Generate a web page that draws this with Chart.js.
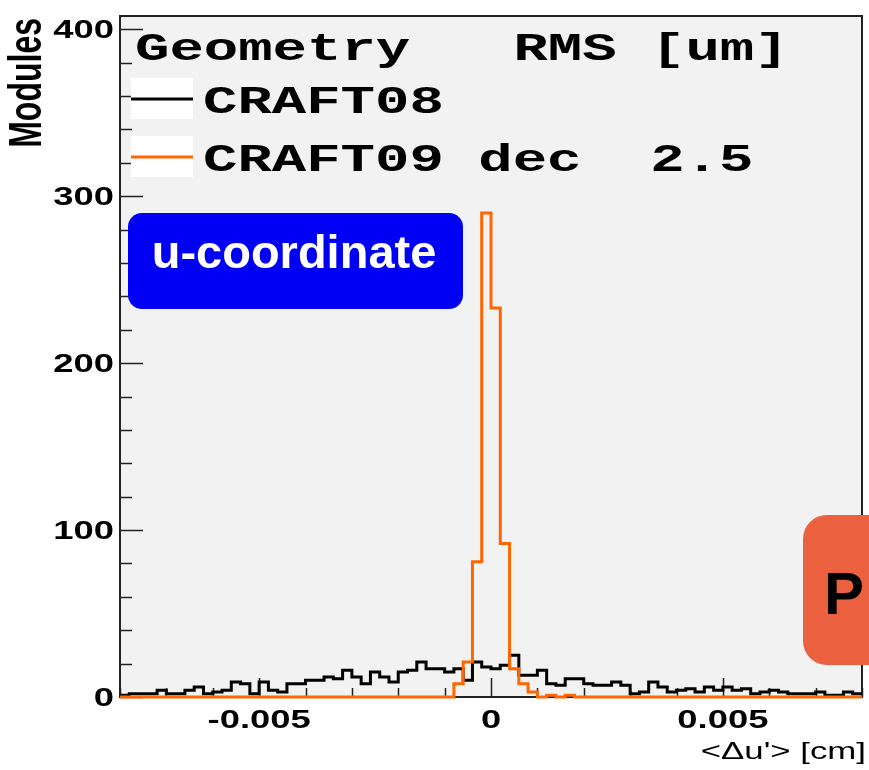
<!DOCTYPE html>
<html>
<head>
<meta charset="utf-8">
<script src="https://cdn.jsdelivr.net/npm/chart.js@4/dist/chart.umd.min.js"></script>
<style>
  html, body { margin: 0; padding: 0; background: #fff; }
  canvas { display: block; }
</style>
</head>
<body>
<canvas id="hist" width="869" height="770"></canvas>
<script>
// binning of the <du'> histograms, in cm
const xMin = -0.008;
const xMax = 0.008;
const binWidth = 0.0002;
const yMax = 408;

// modules per bin, 80 bins
const craft08 = [
  1, 2, 2, 2, 4, 2, 2, 4, 6, 2,
  3, 4, 9, 8, 2, 9, 4, 3, 8, 8,
  10, 10, 12, 11, 16, 12, 8, 15, 12, 9,
  15, 16, 21, 17, 17, 15, 17, 10, 21, 18,
  17, 19, 25, 13, 13, 16, 8, 7, 11, 11,
  8, 7, 7, 9, 7, 2, 3, 9, 6, 3,
  4, 5, 3, 6, 4, 6, 4, 5, 2, 3,
  4, 3, 2, 2, 2, 3, 1, 1, 3, 2
];
const craft09 = [
  0, 0, 0, 0, 0, 0, 0, 0, 0, 0,
  0, 0, 0, 0, 0, 0, 0, 0, 0, 0,
  0, 0, 0, 0, 0, 0, 0, 0, 0, 0,
  0, 0, 0, 0, 0, 0, 8, 21, 81, 290,
  233, 92, 17, 8, 3, 0, 1, 0, 1, 0,
  0, 0, 0, 0, 0, 0, 0, 0, 0, 0,
  0, 0, 0, 0, 0, 0, 0, 0, 0, 0,
  0, 0, 0, 0, 0, 0, 0, 0, 0, 0
];

const yTickValues = [0, 100, 200, 300, 400];
const yTickLabels = ['0', '100', '200', '300', '400'];
const xTickValues = [-0.005, 0, 0.005];
const xTickLabels = ['-0.005', '0', '0.005'];

const legendHeader = 'Geometry   RMS [um]';
const seriesNames = ['CRAFT08', 'CRAFT09 dec  2.5'];
const seriesColors = ['#000000', '#ff6600'];

// one point per left bin edge, plus the closing edge
function toSteps(counts) {
  const pts = counts.map((c, i) => ({ x: xMin + i * binWidth, y: c }));
  pts.push({ x: xMax, y: counts[counts.length - 1] });
  return pts;
}

const SX = 1.45; // horizontal stretch of the frame text

function wideText(ctx, str, x, y, font, align, sx) {
  ctx.save();
  ctx.translate(x, y);
  ctx.scale(sx || SX, 1);
  ctx.font = font;
  ctx.textAlign = align;
  ctx.textBaseline = 'alphabetic';
  ctx.fillStyle = '#000';
  ctx.fillText(str, 0, 0);
  ctx.restore();
}

function roundBox(ctx, x, y, w, h, r, color) {
  ctx.beginPath();
  ctx.moveTo(x + r, y);
  ctx.lineTo(x + w - r, y);
  ctx.arcTo(x + w, y, x + w, y + r, r);
  ctx.lineTo(x + w, y + h - r);
  ctx.arcTo(x + w, y + h, x + w - r, y + h, r);
  ctx.lineTo(x + r, y + h);
  ctx.arcTo(x, y + h, x, y + h - r, r);
  ctx.lineTo(x, y + r);
  ctx.arcTo(x, y, x + r, y, r);
  ctx.closePath();
  ctx.fillStyle = color;
  ctx.fill();
}

const framePlugin = {
  id: 'frame',
  beforeDraw(chart) {
    const { ctx, chartArea: a } = chart;
    ctx.save();
    ctx.fillStyle = '#ffffff';
    ctx.fillRect(0, 0, chart.width, chart.height);
    ctx.fillStyle = '#f2f2f2';
    ctx.fillRect(a.left, a.top, a.right - a.left, a.bottom - a.top);
    ctx.restore();
  },
  beforeDatasetsDraw(chart) {
    const { ctx, chartArea: a, scales } = chart;
    ctx.save();
    ctx.strokeStyle = '#222';
    ctx.lineWidth = 2;
    ctx.strokeRect(a.left, a.top, a.right - a.left, a.bottom - a.top);

    // ticks point into the frame
    ctx.lineWidth = 1.5;
    ctx.beginPath();
    for (let v = 0; v <= yMax; v += 20) {
      const y = Math.round(scales.y.getPixelForValue(v)) + 0.5;
      const len = v % 100 === 0 ? 23 : 12;
      ctx.moveTo(a.left, y);
      ctx.lineTo(a.left + len, y);
    }
    for (let i = -8; i <= 8; i++) {
      const x = Math.round(scales.x.getPixelForValue(i / 1000)) + 0.5;
      const len = i % 5 === 0 ? 19 : 9;
      ctx.moveTo(x, a.bottom);
      ctx.lineTo(x, a.bottom - len);
    }
    ctx.stroke();
    ctx.restore();
  },
  afterDatasetsDraw(chart) {
    const { ctx, chartArea: a, scales } = chart;
    const tickFont = 'bold 26px "Liberation Sans", Arial, sans-serif';

    yTickValues.forEach((v, i) => {
      wideText(ctx, yTickLabels[i], a.left - 6, scales.y.getPixelForValue(v) + 9, tickFont, 'right', 1.4);
    });
    xTickValues.forEach((v, i) => {
      wideText(ctx, xTickLabels[i], scales.x.getPixelForValue(v), 728, tickFont, 'center', 1.4);
    });

    // axis titles
    wideText(ctx, '<\u0394u\'> [cm]', 866, 759, '24px "Liberation Sans", Arial, sans-serif', 'right');
    ctx.save();
    ctx.translate(28, 18);
    ctx.rotate(-Math.PI / 2);
    ctx.scale(1, SX);
    ctx.font = 'bold 32px "Liberation Sans", Arial, sans-serif';
    ctx.textAlign = 'right';
    ctx.textBaseline = 'middle';
    ctx.fillStyle = '#000';
    ctx.fillText('Modules', 0, 0);
    ctx.restore();

    // legend
    const legFont = 'bold 39px "Liberation Mono", "Courier New", monospace';
    wideText(ctx, legendHeader, 135, 60, legFont, 'left', 1.47);
    const rows = [99, 157];
    rows.forEach((y, i) => {
      ctx.save();
      ctx.fillStyle = '#ffffff';
      ctx.fillRect(131, y - 21, 62, 41);
      ctx.strokeStyle = seriesColors[i];
      ctx.lineWidth = 3;
      ctx.beginPath();
      ctx.moveTo(131, y);
      ctx.lineTo(193, y);
      ctx.stroke();
      ctx.restore();
      wideText(ctx, seriesNames[i], 203, y + 14, legFont, 'left', 1.47);
    });
  },
  afterDraw(chart) {
    const { ctx } = chart;
    ctx.save();
    roundBox(ctx, 128, 213, 335, 96, 14, '#0000f5');
    ctx.fillStyle = '#ffffff';
    ctx.font = 'bold 47px "Liberation Sans", Arial, sans-serif';
    ctx.textAlign = 'center';
    ctx.textBaseline = 'alphabetic';
    ctx.fillText('u-coordinate', 294, 268);

    roundBox(ctx, 803, 515, 130, 150, 24, '#eb603e');
    ctx.fillStyle = '#000000';
    ctx.font = 'bold 60px "Liberation Sans", Arial, sans-serif';
    ctx.textAlign = 'left';
    ctx.fillText('P', 824, 614);
    ctx.restore();
  }
};

new Chart(document.getElementById('hist'), {
  type: 'line',
  data: {
    datasets: [
      {
        label: seriesNames[0],
        data: toSteps(craft08),
        borderColor: seriesColors[0],
        borderWidth: 3,
        stepped: 'before',
        pointRadius: 0,
        fill: false,
        clip: 6,
        order: 2
      },
      {
        label: seriesNames[1],
        data: toSteps(craft09),
        borderColor: seriesColors[1],
        borderWidth: 3,
        stepped: 'before',
        pointRadius: 0,
        fill: false,
        clip: 6,
        order: 1
      }
    ]
  },
  options: {
    responsive: false,
    animation: false,
    layout: { padding: { left: 120, right: 7, top: 16, bottom: 73 } },
    plugins: { legend: { display: false }, tooltip: { enabled: false } },
    scales: {
      x: {
        type: 'linear',
        min: xMin,
        max: xMax,
        display: false
      },
      y: {
        min: 0,
        max: yMax,
        display: false
      }
    }
  },
  plugins: [framePlugin]
});
</script>
</body>
</html>
